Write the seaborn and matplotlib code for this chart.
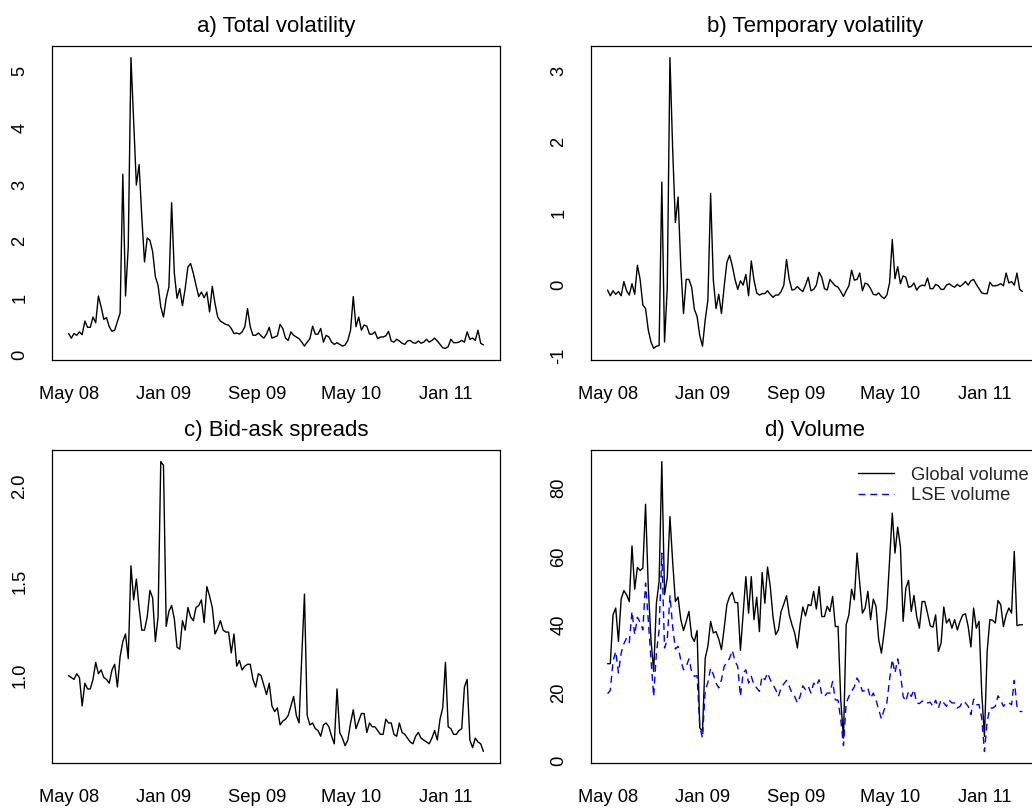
import numpy as np
import pandas as pd
import matplotlib
matplotlib.use("Agg")
import matplotlib.pyplot as plt
import seaborn as sns

# ---------------- data (weekly) ----------------
total_vol = [0.38,0.30,0.38,0.35,0.41,0.36,0.60,0.49,0.49,0.67,
 0.57,1.04,0.85,0.63,0.66,0.50,0.42,0.44,0.59,0.74,
 3.18,1.04,1.90,5.23,4.10,2.99,3.35,2.43,1.64,2.06,
 2.02,1.82,1.38,1.23,0.85,0.67,1.00,1.20,2.68,1.44,
 1.00,1.17,0.87,1.17,1.55,1.61,1.44,1.23,1.03,1.11,
 1.01,1.11,0.76,1.21,0.91,0.67,0.60,0.57,0.54,0.53,
 0.47,0.38,0.39,0.37,0.41,0.50,0.82,0.50,0.35,0.35,
 0.39,0.34,0.30,0.37,0.49,0.30,0.32,0.34,0.54,0.47,
 0.30,0.26,0.41,0.35,0.32,0.29,0.23,0.16,0.23,0.29,
 0.51,0.37,0.37,0.47,0.23,0.35,0.32,0.23,0.19,0.22,
 0.19,0.16,0.18,0.26,0.44,1.03,0.50,0.67,0.44,0.53,
 0.51,0.37,0.37,0.41,0.29,0.32,0.32,0.34,0.42,0.25,
 0.23,0.28,0.25,0.21,0.19,0.25,0.26,0.22,0.21,0.25,
 0.21,0.23,0.28,0.23,0.26,0.30,0.25,0.19,0.13,0.12,
 0.15,0.28,0.22,0.22,0.23,0.26,0.23,0.41,0.28,0.30,
 0.26,0.44,0.21,0.18]

temp_vol = [-0.08,-0.16,-0.09,-0.14,-0.10,-0.16,0.04,-0.09,-0.15,0.01,
 -0.14,0.27,0.07,-0.29,-0.34,-0.64,-0.81,-0.90,-0.87,-0.86,
 1.44,-0.81,-0.06,3.19,1.90,0.87,1.23,0.25,-0.41,0.07,
 0.07,-0.04,-0.35,-0.45,-0.72,-0.87,-0.50,-0.22,1.28,0.06,
 -0.34,-0.14,-0.41,-0.03,0.31,0.41,0.26,0.07,-0.07,0.05,
 -0.01,0.14,-0.16,0.33,0.06,-0.12,-0.15,-0.13,-0.13,-0.09,
 -0.14,-0.18,-0.15,-0.15,-0.10,-0.01,0.35,0.07,-0.08,-0.07,
 -0.03,-0.07,-0.10,-0.01,0.10,-0.09,-0.07,-0.01,0.17,0.10,
 -0.06,-0.08,0.07,0.02,-0.02,-0.04,-0.10,-0.17,-0.09,-0.02,
 0.20,0.06,0.07,0.16,-0.09,0.02,0.00,-0.06,-0.14,-0.15,
 -0.12,-0.17,-0.20,-0.15,0.02,0.63,0.08,0.25,0.01,0.12,
 0.10,-0.04,-0.03,0.02,-0.08,-0.03,-0.01,-0.02,0.09,-0.06,
 -0.06,0.00,-0.02,-0.07,-0.07,-0.01,0.01,-0.02,-0.04,0.00,
 -0.03,0.00,0.04,-0.01,0.05,0.07,0.00,-0.06,-0.12,-0.13,
 -0.13,0.03,-0.02,-0.02,-0.01,0.01,-0.02,0.16,0.02,0.04,
 -0.01,0.16,-0.07,-0.10]

spreads = [1.00,0.99,0.98,1.01,0.99,0.84,0.96,0.93,0.93,0.98,
 1.07,1.01,1.03,0.99,0.98,0.96,1.03,1.06,0.94,1.10,
 1.18,1.22,1.09,1.58,1.40,1.51,1.36,1.24,1.24,1.31,
 1.45,1.41,1.18,1.31,2.13,2.11,1.26,1.34,1.37,1.30,
 1.15,1.14,1.29,1.24,1.36,1.31,1.29,1.36,1.37,1.40,
 1.28,1.47,1.42,1.36,1.22,1.25,1.29,1.24,1.23,1.23,
 1.12,1.22,1.05,1.08,1.03,1.05,1.06,1.06,0.98,0.94,
 1.01,1.00,0.95,0.90,0.96,0.84,0.81,0.83,0.74,0.76,
 0.77,0.79,0.84,0.89,0.79,0.75,1.10,1.43,0.79,0.74,
 0.75,0.72,0.71,0.68,0.74,0.75,0.73,0.68,0.64,0.93,
 0.70,0.67,0.63,0.66,0.75,0.82,0.72,0.76,0.80,0.80,
 0.70,0.75,0.73,0.73,0.71,0.69,0.69,0.77,0.75,0.75,
 0.69,0.68,0.75,0.70,0.69,0.67,0.65,0.64,0.68,0.70,
 0.67,0.66,0.65,0.64,0.67,0.71,0.66,0.77,0.83,1.07,
 0.73,0.72,0.69,0.69,0.71,0.72,0.94,0.98,0.66,0.62,
 0.67,0.65,0.64,0.60]

global_volume = [28.6,28.6,42.9,44.9,35.1,47.5,50.0,48.8,46.8,63.1,
 50.4,56.8,55.9,56.6,75.3,51.2,35.6,26.3,46.3,52.7,
 87.8,48.8,53.7,71.7,58.5,46.8,48.1,41.5,38.3,41.0,
 43.9,36.6,35.1,38.3,9.8,8.8,30.2,33.7,41.0,37.6,
 38.0,35.8,32.7,39.0,45.9,48.3,49.5,46.5,46.5,32.5,
 43.4,54.1,43.4,54.1,41.5,48.1,38.0,55.3,46.3,56.9,
 51.2,42.4,37.1,38.5,43.9,46.1,48.5,42.9,40.0,37.6,
 33.2,40.0,45.2,42.6,45.9,45.6,49.8,44.6,51.2,42.4,
 42.4,45.4,43.9,48.3,39.5,39.5,18.0,6.8,40.0,42.9,
 50.4,47.3,61.0,52.2,43.4,44.9,49.8,41.5,47.5,45.4,
 35.6,31.7,37.8,44.9,59.0,72.7,61.0,68.6,62.9,41.0,
 50.7,53.0,43.9,48.6,42.4,39.0,46.8,46.8,43.4,39.7,
 39.3,42.9,32.2,34.6,45.2,40.5,41.7,39.0,41.5,38.5,
 41.0,42.9,43.2,39.5,33.5,44.9,39.0,41.0,20.0,7.3,
 32.2,41.5,41.3,40.5,47.1,45.9,39.5,42.9,44.9,43.4,
 61.5,39.7,40.0,40.0]

lse_volume = [19.8,20.8,29.3,32.2,25.9,31.7,34.4,36.1,34.8,43.9,
 37.1,42.2,40.7,38.5,52.2,41.5,29.8,19.0,31.7,38.5,
 61.0,33.2,35.6,48.5,39.5,32.9,33.7,29.6,26.8,27.8,
 30.0,26.3,24.9,25.1,10.2,6.8,20.8,23.1,27.3,25.4,
 22.9,21.5,23.9,27.8,29.0,30.2,32.5,29.3,27.8,19.0,
 25.9,26.8,22.9,24.9,22.4,21.5,20.5,24.9,23.9,25.9,
 23.9,22.4,21.0,19.0,21.5,22.7,23.7,22.0,20.0,19.0,
 17.1,19.0,22.1,21.0,22.0,20.0,22.9,22.0,23.9,19.5,
 19.0,20.0,20.0,23.4,18.0,17.9,12.2,4.6,17.1,19.0,
 20.5,21.8,24.4,22.9,20.5,20.8,21.5,18.5,20.0,18.0,
 15.1,12.4,15.1,17.1,23.9,29.8,25.9,30.0,25.9,19.0,
 17.6,20.5,19.0,21.0,17.1,16.9,17.6,17.9,17.1,17.3,
 16.1,17.9,15.6,18.0,17.1,16.1,17.9,17.1,17.1,15.6,
 16.1,17.6,17.1,16.1,13.7,18.2,16.6,16.6,12.7,2.9,
 11.7,15.6,15.6,16.1,19.2,17.9,16.1,17.1,17.1,16.6,
 23.7,16.1,14.6,14.6]

start_date = "2008-05-01"
tick_dates = ["2008-05-01", "2009-01-01", "2009-09-01", "2010-05-01", "2011-01-01"]
tick_labels = ["May 08", "Jan 09", "Sep 09", "May 10", "Jan 11"]
titles = ["a) Total volatility", "b) Temporary volatility",
          "c) Bid-ask spreads", "d) Volume"]
yticks_a = [0, 1, 2, 3, 4, 5]
yticks_b = [-1, 0, 1, 2, 3]
yticks_c = [1.0, 1.5, 2.0]
ytick_labels_c = ["1.0", "1.5", "2.0"]
yticks_d = [0, 20, 40, 60, 80]
legend_labels = ["Global volume", "LSE volume"]

# ---------------- style ----------------
sns.set_theme(style="white")
plt.rcParams["font.family"] = ["Liberation Sans", "DejaVu Sans"]
plt.rcParams["axes.unicode_minus"] = False
plt.rcParams["axes.edgecolor"] = "black"
plt.rcParams["axes.linewidth"] = 0.9

dates = pd.date_range(start_date, periods=len(total_vol), freq="7D")
df = pd.DataFrame({"date": dates, "total": total_vol, "temp": temp_vol,
                   "spread": spreads, "glob": global_volume, "lse": lse_volume})

W, H = 1032, 809
fig = plt.figure(figsize=(W / 100, H / 100), dpi=100)

def px_axes(left, top, right, bottom):
    return fig.add_axes([left / W, 1 - bottom / H, (right - left) / W, (bottom - top) / H])

ax_a = px_axes(52, 46, 500, 360)
ax_b = px_axes(591, 46, 1039, 360)
ax_c = px_axes(52, 450, 500, 763)
ax_d = px_axes(591, 450, 1039, 763)

LW = 1.0
sns.lineplot(data=df, x="date", y="total", ax=ax_a, color="black", linewidth=LW)
sns.lineplot(data=df, x="date", y="temp", ax=ax_b, color="black", linewidth=LW)
sns.lineplot(data=df, x="date", y="spread", ax=ax_c, color="black", linewidth=LW)
sns.lineplot(data=df, x="date", y="glob", ax=ax_d, color="black", linewidth=LW,
             label=legend_labels[0])
sns.lineplot(data=df, x="date", y="lse", ax=ax_d, color="blue", linewidth=LW,
             label=legend_labels[1])
ax_d.lines[-1].set_dashes([5, 3.5])

yt = [(yticks_a, [str(v) for v in yticks_a]),
      (yticks_b, [str(v) for v in yticks_b]),
      (yticks_c, ytick_labels_c),
      (yticks_d, [str(v) for v in yticks_d])]

for ax, title, (ticks, labels) in zip([ax_a, ax_b, ax_c, ax_d], titles, yt):
    ax.margins(x=0.04, y=0.04)
    ax.autoscale_view()
    ax.set_xlabel("")
    ax.set_ylabel("")
    ax.grid(False)
    for s in ax.spines.values():
        s.set_visible(True)
        s.set_color("black")
        s.set_linewidth(0.9)
    ax.set_xticks(pd.to_datetime(tick_dates), labels=tick_labels)
    ax.set_yticks(ticks, labels=labels)
    ax.tick_params(axis="both", direction="out", length=8, width=0.9,
                   colors="black", labelsize=13.2)
    ax.tick_params(axis="x", pad=11)
    ax.tick_params(axis="y", pad=9)
    for t in ax.get_yticklabels():
        t.set_rotation(90)
        t.set_va("center")
        t.set_ha("right")
    ax.set_title(title, fontsize=16, pad=10, color="black")

leg = ax_d.legend(loc="upper right", bbox_to_anchor=(1.0 + 6 / 448, 1.0),
                  frameon=False, fontsize=13.2,
                  handlelength=2.0, handletextpad=0.9, labelspacing=0.2,
                  borderaxespad=0.5, borderpad=0.4)

fig.savefig("out.png", dpi=100)
